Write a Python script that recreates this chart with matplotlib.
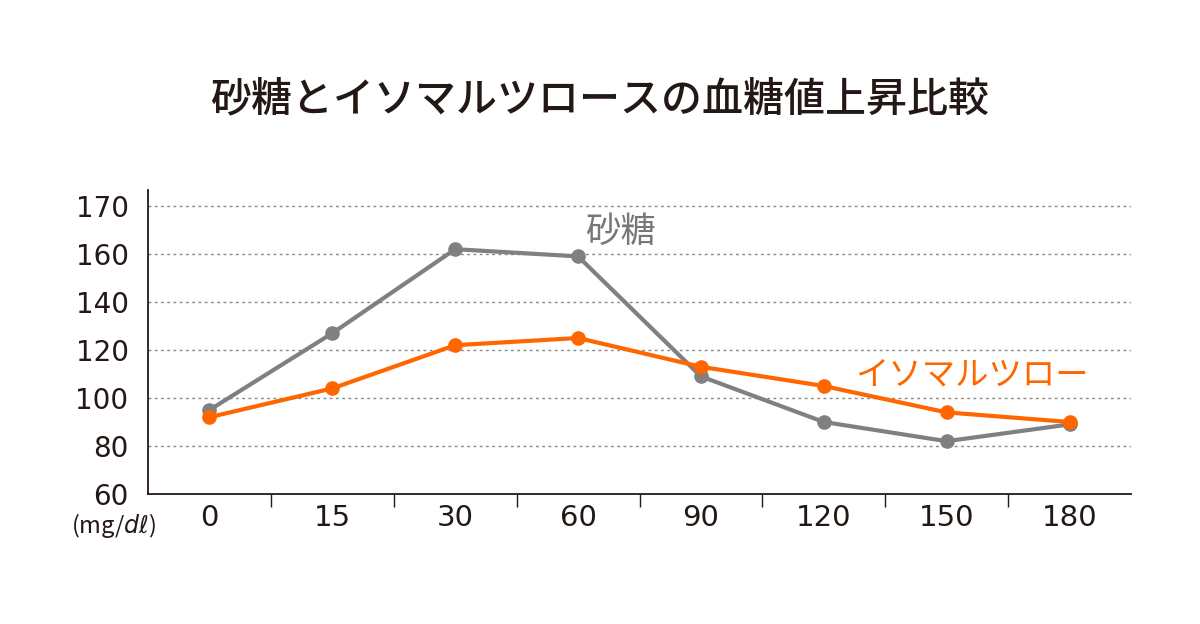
import numpy as np
import matplotlib
matplotlib.use("Agg")
import matplotlib.pyplot as plt
from matplotlib.ticker import FixedLocator

plt.rcParams['font.family'] = ['Noto Sans CJK JP', 'DejaVu Sans']

title = "砂糖とイソマルツロースの血糖値上昇比較"
categories = ["0", "15", "30", "60", "90", "120", "150", "180"]
sugar = [95, 127, 161, 159, 109, 90, 82, 89]
isomaltulose = [92, 104, 122, 125, 113, 105, 94, 90]
y_ticks = [60, 80, 100, 120, 140, 160, 170]
sugar_label = "砂糖"
iso_label = "イソマルツロー"
unit_label = "(mg/$\\mathit{d}\\ell$)"

# Uneven value axis: each labelled tick is equally spaced
breaks_v = [40] + y_ticks + [180]
breaks_p = list(range(-1, len(y_ticks) + 1))

def fwd(v):
    return np.interp(v, breaks_v, breaks_p)

def inv(p):
    return np.interp(p, breaks_p, breaks_v)

dark = "#231815"
gray = "#808080"
orange = "#ff6600"
num_font = 'DejaVu Sans'

fig = plt.figure(figsize=(12, 6.24), dpi=100)
ax = fig.add_axes([148/1200, (624-494)/624, (1131-148)/1200, (494-190)/624])
ax.set_yscale('function', functions=(fwd, inv))

x = np.arange(len(categories))
ax.plot(x, sugar, color=gray, lw=3, marker='o', ms=9.5, zorder=3)
ax.plot(x, isomaltulose, color=orange, lw=3, marker='o', ms=9.5, zorder=4)

ax.set_xlim(-0.5, len(categories) - 0.5)
ax.set_ylim(60, inv(6 + 16/48))

ax.set_xticks(x)
ax.set_xticklabels(categories, fontsize=21, color=dark, family=num_font)
ax.xaxis.set_minor_locator(FixedLocator(np.arange(0.5, len(categories) - 1, 1)))
ax.tick_params(axis='x', which='major', length=0, pad=7)
ax.tick_params(axis='x', which='minor', length=9, width=1, color=dark, direction='out')

ax.yaxis.set_major_locator(FixedLocator(y_ticks))
ax.yaxis.set_minor_locator(FixedLocator([]))
ax.set_yticklabels([str(t) for t in y_ticks], fontsize=20, color=dark, family=num_font)
ax.tick_params(axis='y', which='major', length=0, pad=14)

for t in y_ticks[1:]:
    ax.axhline(t, color="#888888", lw=1, ls=(0, (2, 2.5)), zorder=1)

for s in ['top', 'right']:
    ax.spines[s].set_visible(False)
for s in ['left', 'bottom']:
    ax.spines[s].set_color(dark)
    ax.spines[s].set_linewidth(1.3)

fig.text(0.5, (624-101)/624, title, ha='center', va='center', fontsize=29.5, color=dark,
         fontweight='medium')
fig.text(621/1200, (624-232)/624, sugar_label, ha='center', va='center', fontsize=25.5, color="#777777")
fig.text(972/1200, (624-375)/624, iso_label, ha='center', va='center', fontsize=24, color=orange)
fig.text(113/1200, (624-525)/624, unit_label, ha='center', va='center', fontsize=17, color=dark)

fig.savefig("out.png", dpi=100, facecolor='white')
